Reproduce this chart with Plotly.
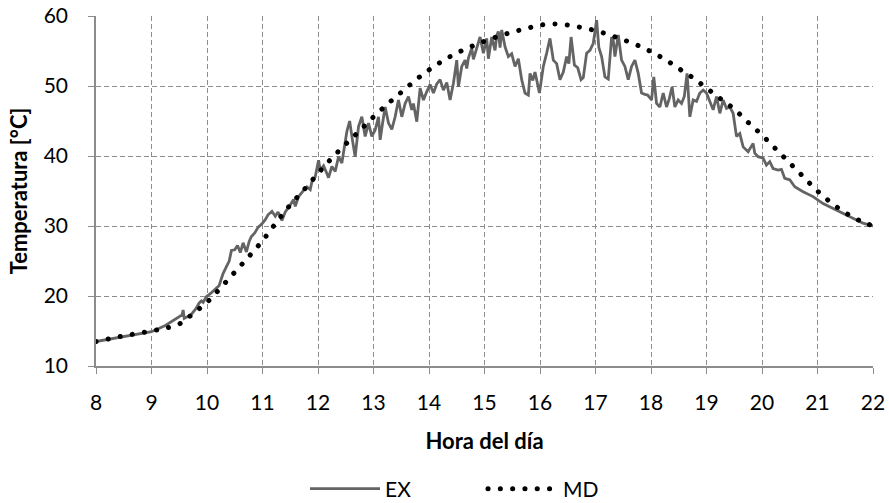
import plotly.graph_objects as go

# ---- data ----
md_hour = [8, 8.5, 9, 9.25, 9.5, 9.75, 10, 10.25, 10.5, 10.75, 11, 11.25, 11.5, 11.75,
           12, 12.25, 12.5, 12.75, 13, 13.25, 13.5, 13.75, 14, 14.25, 14.5, 14.75,
           15, 15.25, 15.5, 15.75, 16, 16.25, 16.5, 16.75, 17, 17.25, 17.5, 17.75,
           18, 18.25, 18.5, 18.75, 19, 19.25, 19.5, 19.75, 20, 20.25, 20.5, 20.75,
           21, 21.25, 21.5, 21.75, 22]
md_temp = [13.5, 14.3, 15.0, 15.4, 16.0, 17.5, 19.1, 21.2, 23.4, 25.6, 27.9, 30.5, 33.0, 35.2,
           37.5, 39.7, 41.7, 43.6, 45.6, 47.4, 49.1, 50.8, 52.3, 53.6, 54.7, 55.6,
           56.4, 57.1, 57.7, 58.2, 58.7, 58.85, 58.7, 58.35, 57.9, 57.3, 56.6, 55.85,
           54.9, 53.8, 52.5, 51.2, 49.7, 48.2, 46.7, 44.8, 43.0, 41.0, 39.0, 37.0,
           35.0, 33.3, 31.9, 30.8, 30.0]

ex_hour = [8.00, 8.50, 9.00, 9.25, 9.50, 9.55, 9.57, 9.59, 9.71, 9.80, 9.86, 9.90, 9.93, 9.99,
           10.07, 10.14, 10.22, 10.26, 10.29, 10.35, 10.40, 10.44, 10.50, 10.55, 10.60, 10.65,
           10.71, 10.76, 10.80, 10.86, 10.92, 10.99, 11.05, 11.10, 11.17, 11.23, 11.28, 11.35,
           11.41, 11.50, 11.56, 11.59, 11.65, 11.74, 11.80, 11.86, 11.89, 11.95, 11.98, 12.01,
           12.04, 12.10, 12.16, 12.19, 12.25, 12.31, 12.37, 12.43, 12.52, 12.57, 12.62, 12.67,
           12.73, 12.79, 12.85, 12.91, 12.97, 13.03, 13.09, 13.12, 13.16, 13.21, 13.27, 13.33,
           13.39, 13.45, 13.51, 13.57, 13.63, 13.69, 13.72, 13.78, 13.84, 13.90, 13.96, 14.02,
           14.08, 14.14, 14.20, 14.26, 14.32, 14.38, 14.44, 14.50, 14.53, 14.59, 14.65, 14.68,
           14.71, 14.77, 14.80, 14.86, 14.92, 14.98, 15.04, 15.07, 15.13, 15.19, 15.22, 15.25,
           15.28, 15.31, 15.37, 15.43, 15.49, 15.55, 15.61, 15.67, 15.73, 15.79, 15.82, 15.87,
           15.91, 15.99, 16.06, 16.12, 16.18, 16.24, 16.30, 16.36, 16.42, 16.48, 16.52, 16.56,
           16.62, 16.68, 16.74, 16.78, 16.84, 16.90, 16.96, 17.02, 17.06, 17.11, 17.17, 17.23,
           17.29, 17.32, 17.35, 17.41, 17.47, 17.53, 17.59, 17.65, 17.71, 17.77, 17.83, 17.89,
           17.94, 18.01, 18.05, 18.10, 18.16, 18.22, 18.28, 18.33, 18.38, 18.43, 18.49, 18.55,
           18.60, 18.65, 18.70, 18.76, 18.82, 18.88, 18.94, 19.00, 19.06, 19.12, 19.18, 19.24,
           19.30, 19.36, 19.42, 19.48, 19.54, 19.60, 19.66, 19.75, 19.84, 19.87, 19.93, 20.02,
           20.08, 20.14, 20.20, 20.29, 20.35, 20.41, 20.50, 20.59, 20.74, 20.92, 21.10, 21.28,
           21.46, 21.64, 21.82, 22.00]
ex_temp = [13.5, 14.2, 14.9, 15.8, 17.0, 17.3, 18.0, 16.8, 17.3, 18.2, 19.0, 19.3, 19.1, 19.9,
           20.4, 20.9, 21.5, 22.5, 23.2, 24.2, 25.0, 26.5, 26.6, 27.2, 26.2, 27.6,
           26.3, 27.8, 28.5, 29.0, 29.8, 30.3, 30.9, 31.6, 32.1, 31.4, 32.0, 30.8,
           32.0, 33.0, 33.8, 32.8, 34.2, 35.1, 35.6, 35.2, 36.3, 37.0, 38.0, 39.4,
           38.0, 38.6, 37.5, 36.9, 38.5, 37.8, 39.9, 39.0, 43.5, 45.0, 42.3, 39.9,
           44.2, 45.6, 42.8, 44.7, 42.8, 43.7, 45.6, 42.3, 44.5, 47.0, 44.7, 43.8,
           45.6, 48.0, 45.6, 47.5, 48.5, 46.6, 47.5, 44.9, 49.7, 48.0, 49.2, 50.2,
           49.0, 50.3, 50.9, 49.4, 50.5, 48.0, 50.4, 53.7, 49.9, 52.8, 53.7, 52.5,
           54.0, 55.4, 53.8, 55.6, 57.0, 54.7, 56.8, 53.9, 57.0, 55.1, 57.2, 57.8,
           55.5, 58.0, 55.6, 54.2, 54.6, 52.8, 53.9, 50.9, 49.0, 48.7, 51.8, 50.8,
           52.0, 49.0, 52.8, 54.7, 56.8, 53.7, 53.2, 50.9, 52.0, 54.2, 53.2, 57.0,
           53.0, 52.6, 50.9, 51.2, 54.7, 55.1, 56.1, 59.4, 55.5, 54.2, 51.3, 51.0,
           57.0, 56.5, 54.2, 57.3, 53.7, 52.8, 50.9, 52.8, 53.7, 51.8, 49.0, 48.8,
           48.7, 48.0, 51.3, 47.5, 47.0, 49.0, 47.0, 48.2, 49.9, 47.0, 48.0, 47.5,
           48.5, 51.8, 45.6, 48.0, 47.8, 49.0, 49.4, 49.0, 47.8, 46.6, 48.5, 46.1,
           48.0, 46.8, 47.0, 46.1, 42.8, 43.2, 41.3, 40.6, 41.8, 40.4, 39.9, 39.7,
           38.7, 39.2, 38.2, 38.0, 38.1, 36.8, 36.6, 35.6, 34.9, 34.2, 33.2, 32.5,
           31.8, 31.1, 30.4, 30.0]

x_ticks = list(range(8, 23))
y_ticks = [10, 20, 30, 40, 50, 60]

FONT = "Lato, 'Open Sans', sans-serif"
FS = 21
FT = 22

fig = go.Figure()
fig.add_trace(go.Scatter(x=ex_hour, y=ex_temp, name="EX", mode="lines",
                         line=dict(color="#646464", width=2.8)))
fig.add_trace(go.Scatter(x=md_hour, y=md_temp, name="MD", mode="lines",
                         line=dict(color="#000000", width=5, dash="0.1px,12.2px", shape="spline")))

axis_common = dict(
    showgrid=True, gridcolor="#8c8c8c", gridwidth=1.4, griddash="5px,3px",
    showline=True, linecolor="#8c8c8c", linewidth=1.6,
    ticks="outside", ticklen=6, tickcolor="#8c8c8c", tickwidth=1.4,
    tickfont=dict(family=FONT, size=FS, color="#000000"),
    zeroline=False, automargin=False,
)

fig.update_xaxes(range=[8, 22], tickvals=x_ticks, ticklabelstandoff=11, **axis_common,
                 title=dict(text="<b>Hora del día</b>", font=dict(family=FONT, size=FT, color="#000"),
                            standoff=21))
fig.update_yaxes(range=[10, 60], tickvals=y_ticks, ticklabelstandoff=16, **axis_common,
                 title=dict(text="<b>Temperatura [°C]</b>", font=dict(family=FONT, size=FT, color="#000"),
                            standoff=10))

fig.update_layout(
    width=889, height=503,
    margin=dict(l=96, r=16, t=16, b=137, autoexpand=False),
    plot_bgcolor="white", paper_bgcolor="white",
    font=dict(family=FONT, size=FS, color="#000"),
    showlegend=True,
    legend=dict(orientation="h", x=(305 - 96) / 777, xanchor="left", y=-0.293, yanchor="top",
                font=dict(family=FONT, size=FS), itemwidth=70, entrywidth=93,
                entrywidthmode="pixels", traceorder="normal", bgcolor="rgba(0,0,0,0)"),
)

post = """
document.body.style.margin='0';
document.body.style.padding='0';
document.documentElement.style.overflow='hidden';
var s=document.querySelectorAll('.js-line');
s.forEach(function(p){ if(p.style.strokeDasharray && p.style.strokeDasharray.indexOf('12.2')>=0){p.style.strokeLinecap='round';} });
"""
fig.write_html("out.html", post_script=post, config={"displayModeBar": False})
